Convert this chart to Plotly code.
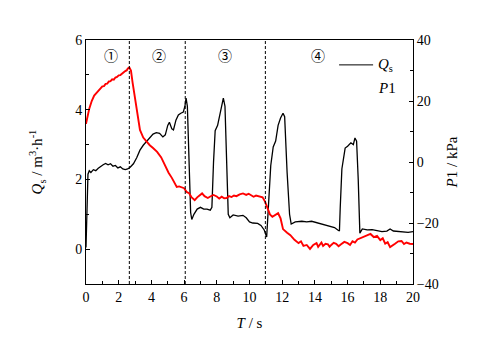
import plotly.graph_objects as go

# Qs (m3/h), left axis
t_q = [0.0, 0.06, 0.12, 0.2, 0.3, 0.45, 0.6, 0.75, 0.9, 1.05, 1.2, 1.35, 1.5, 1.65, 1.8, 1.95,
       2.1, 2.25, 2.4, 2.55, 2.7, 2.9, 3.1, 3.3, 3.5, 3.7, 3.9, 4.1, 4.3, 4.5, 4.7, 4.85, 5.0,
       5.1, 5.25, 5.35, 5.5, 5.65, 5.8, 5.95, 6.05, 6.12, 6.2, 6.3, 6.4, 6.47, 6.6, 6.8, 7.0,
       7.2, 7.4, 7.6, 7.7, 7.8, 7.9, 8.05, 8.2, 8.3, 8.4, 8.5, 8.6, 8.7, 8.8, 9.0, 9.3, 9.6,
       9.8, 10.0, 10.2, 10.5, 10.7, 10.9, 11.05, 11.15, 11.3, 11.45, 11.6, 11.75, 11.9, 12.05,
       12.15, 12.3, 12.45, 12.55, 12.8, 13.2, 13.5, 13.8, 14.1, 14.4, 14.7, 15.0, 15.2, 15.4,
       15.5, 15.55, 15.65, 15.85, 16.0, 16.2, 16.35, 16.45, 16.55, 16.65, 16.75, 16.9, 17.2,
       17.5, 17.8, 18.1, 18.4, 18.6, 18.8, 19.1, 19.4, 19.7, 20.0]
q_s = [0.05, 1.2, 2.15, 2.25, 2.2, 2.28, 2.25, 2.32, 2.38, 2.42, 2.46, 2.42, 2.45, 2.38, 2.40, 2.33,
       2.36, 2.30, 2.28, 2.30, 2.35, 2.45, 2.62, 2.84, 2.98, 3.08, 3.19, 3.30, 3.34, 3.32, 3.22, 3.28, 3.55,
       3.64, 3.45, 3.42, 3.70, 3.85, 3.90, 3.93, 4.1, 4.33, 4.1, 2.5, 1.05, 0.85, 1.0, 1.15, 1.2,
       1.15, 1.15, 1.12, 1.2, 2.5, 3.4, 3.55, 3.85, 4.1, 4.33, 4.1, 2.5, 1.0, 0.9, 0.98, 0.95, 0.97,
       0.9, 0.78, 0.75, 0.74, 0.68, 0.55, 0.35, 1.2, 2.4, 2.93, 3.1, 3.55, 3.76, 3.9,
       3.8, 2.2, 1.0, 0.72, 0.78, 0.80, 0.78, 0.80, 0.76, 0.74, 0.68, 0.65, 0.62, 0.55,
       0.52, 1.2, 2.3, 2.9, 2.95, 3.05, 3.0, 3.19, 3.1, 2.0, 0.46, 0.58, 0.55,
       0.56, 0.52, 0.50, 0.52, 0.58, 0.52, 0.50, 0.50, 0.48, 0.50]

# P1 (kPa), right axis
t_p = [0.0, 0.1, 0.2, 0.35, 0.5, 0.7, 0.85, 1.0, 1.1, 1.2, 1.3, 1.4, 1.5, 1.6, 1.7, 1.8, 1.9,
       2.0, 2.1, 2.2, 2.3, 2.4, 2.5, 2.55, 2.65,
       2.75, 2.85, 3.0, 3.15, 3.3, 3.5, 3.7, 3.9, 4.1, 4.35, 4.6, 4.85, 5.05, 5.25, 5.4, 5.55,
       5.7, 5.85, 6.0, 6.15, 6.3, 6.45, 6.65, 6.8, 6.95, 7.1, 7.25, 7.45, 7.6, 7.8, 8.0, 8.15,
       8.3, 8.45, 8.6, 8.75, 8.9, 9.05, 9.2, 9.4, 9.6, 9.8, 9.95, 10.1, 10.25, 10.4, 10.6,
       10.8, 10.95, 11.1, 11.25, 11.4, 11.55,
       11.75, 11.9, 12.05, 12.3, 12.5, 12.75, 13.0, 13.15, 13.3, 13.5, 13.7, 13.9, 14.1, 14.2,
       14.3, 14.4, 14.5, 14.65, 14.8, 14.9, 15.0, 15.15, 15.3, 15.45, 15.6, 15.8, 16.0, 16.15,
       16.3, 16.45, 16.6, 16.8, 17.0, 17.2, 17.4, 17.6, 17.8, 18.0, 18.15, 18.3, 18.45,
       18.6, 18.75, 18.9, 19.1, 19.3, 19.45, 19.6, 19.8, 20.0]
p1 = [12.5, 15, 17.5, 20, 21.8, 23, 23.8, 24.8, 24.9, 25.6, 25.7, 26.4, 26.5, 27.1, 27.0, 27.7, 27.9,
      28.4, 28.5, 29.0, 29.3, 29.8, 30.1, 30.6, 31,
      30, 26, 21, 15, 10.5, 8, 6.6, 5.5, 4.6, 3.3, 1.5, -1.6, -3.5, -5.2, -6.8, -8.2,
      -8.0, -8.3, -8.6, -9.8, -10.2, -11.5, -12.5, -11.6, -10.8, -10.3, -11.2, -11.8, -11.3, -10.8, -11.3, -12.0,
      -11.4, -11.9, -11.8, -11.2, -11.5, -11.0, -11.2, -10.6, -10.3, -10.8, -10.4, -10.8, -11.4, -11.0, -11.2,
      -11.6, -13, -15, -17.2, -18, -17.6,
      -16.8, -18.5, -22, -23.2, -24, -25.5, -26.6, -26.0, -27.5, -27.2, -28.5, -27.2, -26.6, -27.8,
      -27.2, -26.4, -27.5, -26.8, -27, -27.8, -27.2, -26.5, -26.8, -27.6, -27, -26.2, -26.6, -27.2,
      -26, -26.4, -25.4, -25.0, -24.6, -24, -23.6, -24.6, -24.2, -25.6, -25.0, -26.8, -26.3,
      -27.9, -27.2, -26.8, -26, -25.9, -26.9, -26.4, -26.8, -26.9]

stage_bounds = [2.65, 6.07, 10.97]
stage_labels = ['①', '②', '③', '④']
stage_x = [1.53, 4.47, 8.5, 14.2]

FONT = 'Liberation Serif'

fig = go.Figure()
fig.add_trace(go.Scatter(x=t_q, y=q_s, mode='lines', name='Qs',
                         line=dict(color='black', width=1.3)))
fig.add_trace(go.Scatter(x=t_p, y=p1, mode='lines', name='P1', yaxis='y2',
                         line=dict(color='#ff0000', width=1.9)))

for xb in stage_bounds:
    fig.add_shape(type='line', x0=xb, x1=xb, y0=0, y1=1, xref='x', yref='paper',
                  line=dict(color='black', width=1, dash='3px,2px'))

for lab, xs in zip(stage_labels, stage_x):
    fig.add_annotation(x=xs, y=0.939, xref='x', yref='paper', text=lab, showarrow=False,
                       font=dict(size=14, color='black', family='Noto Sans CJK SC'),
                       yanchor='middle')

# legend drawn by hand
fig.add_shape(type='line', x0=0.774, x1=0.878, y0=0.898, y1=0.898, xref='paper', yref='paper',
              line=dict(color='black', width=1))
fig.add_annotation(x=0.886, y=0.898, xref='paper', yref='paper', text='<i>Q</i><sub>s</sub>',
                   showarrow=False, xanchor='left', yanchor='middle', font=dict(size=15))
fig.add_annotation(x=0.886, y=0.803, xref='paper', yref='paper', text='<i>P</i>1',
                   showarrow=False, xanchor='left', yanchor='middle', font=dict(size=15))

axis_common = dict(showline=True, linecolor='black', linewidth=1, ticks='inside',
                   ticklen=4, tickcolor='black', showgrid=False, zeroline=False,
                   tickfont=dict(size=14))

# page body has an 8px margin, so the figure is made 8px smaller and shifted
fig.update_layout(
    width=472, height=333,
    margin=dict(l=78, r=67, t=32, b=57),
    paper_bgcolor='white', plot_bgcolor='white',
    font=dict(family=FONT, color='black'),
    showlegend=False,
    xaxis=dict(range=[0, 20], dtick=2, mirror=True,
               minor=dict(dtick=1, ticks='inside', ticklen=3, tickcolor='black'),
               title=dict(text='<i>T</i> / s', font=dict(size=15), standoff=13),
               **axis_common),
    yaxis=dict(range=[-1, 6], tickvals=[0, 2, 4, 6],
               minor=dict(tickvals=[-1, 1, 3, 5], ticks='inside', ticklen=3, tickcolor='black'),
               title=dict(text='<i>Q</i><sub>s</sub> / m<sup>3</sup>·h<sup>-1</sup>',
                          font=dict(size=15), standoff=28),
               **axis_common),
    yaxis2=dict(range=[-40, 40], dtick=20, overlaying='y', side='right',
                minor=dict(dtick=10, ticks='inside', ticklen=3, tickcolor='black'),
                title=dict(text='<i>P</i>1 / kPa', font=dict(size=15), standoff=8),
                **axis_common),
)

fig.write_html("out.html")
